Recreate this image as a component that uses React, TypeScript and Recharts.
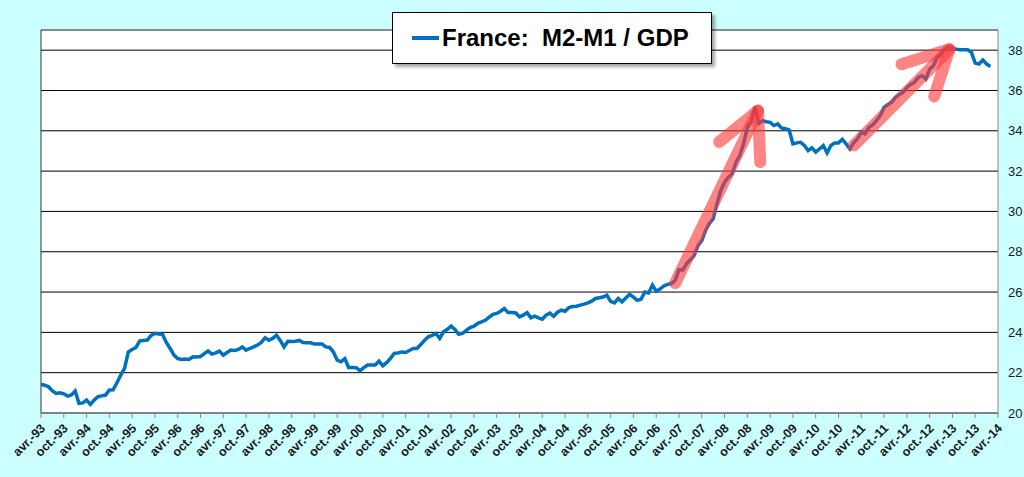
import React from 'react';
import {
    LineChart,
    Line,
    XAxis,
    YAxis,
    CartesianGrid,
    ReferenceLine,
    Legend
} from 'recharts';

// x-axis labels, one every six months (avr.-93 ... avr.-14)
const tickLabels = [
    'avr.-93', 'oct.-93', 'avr.-94', 'oct.-94', 'avr.-95', 'oct.-95', 'avr.-96', 'oct.-96',
    'avr.-97', 'oct.-97', 'avr.-98', 'oct.-98', 'avr.-99', 'oct.-99', 'avr.-00', 'oct.-00',
    'avr.-01', 'oct.-01', 'avr.-02', 'oct.-02', 'avr.-03', 'oct.-03', 'avr.-04', 'oct.-04',
    'avr.-05', 'oct.-05', 'avr.-06', 'oct.-06', 'avr.-07', 'oct.-07', 'avr.-08', 'oct.-08',
    'avr.-09', 'oct.-09', 'avr.-10', 'oct.-10', 'avr.-11', 'oct.-11', 'avr.-12', 'oct.-12',
    'avr.-13', 'oct.-13', 'avr.-14'
];

// monthly M2-M1 / GDP (%), starting avr.-93
const ratio = [
    21.42, 21.38, 21.3, 21.1, 20.97, 21.0, 20.95, 20.84, 20.9, 21.09,
    20.48, 20.5, 20.64, 20.43, 20.64, 20.81, 20.85, 20.89, 21.14, 21.15,
    21.5, 21.88, 22.21, 23.03, 23.15, 23.25, 23.58, 23.6, 23.62, 23.85,
    23.95, 23.92, 23.9, 23.5, 23.2, 22.87, 22.7, 22.66, 22.68, 22.66,
    22.79, 22.78, 22.8, 22.95, 23.08, 22.92, 22.98, 23.07, 22.87, 23.0,
    23.12, 23.1, 23.15, 23.28, 23.12, 23.2, 23.28, 23.37, 23.5, 23.73,
    23.61, 23.7, 23.86, 23.6, 23.28, 23.56, 23.55, 23.56, 23.6, 23.5,
    23.48, 23.48, 23.42, 23.42, 23.42, 23.28, 23.25, 23.03, 22.62, 22.54,
    22.7, 22.26, 22.26, 22.25, 22.1, 22.25, 22.38, 22.38, 22.38, 22.57,
    22.34, 22.5, 22.7, 22.96, 22.98, 23.03, 23.0, 23.1, 23.2, 23.2,
    23.4, 23.61, 23.78, 23.85, 23.95, 23.7, 24.03, 24.15, 24.31, 24.14,
    23.9, 23.95, 24.1, 24.24, 24.31, 24.45, 24.52, 24.6, 24.75, 24.89,
    24.94, 25.05, 25.18, 24.98, 24.98, 24.96, 24.77, 24.85, 24.98, 24.72,
    24.8, 24.72, 24.65, 24.85, 24.96, 24.8, 25.0, 25.1, 25.05, 25.23,
    25.28, 25.3, 25.35, 25.4, 25.46, 25.55, 25.68, 25.72, 25.75, 25.84,
    25.54, 25.46, 25.68, 25.51, 25.7, 25.89, 25.75, 25.59, 25.64, 26.0,
    25.95, 26.34, 26.04, 26.15, 26.3, 26.38, 26.42, 26.58, 27.11, 27.1,
    27.41, 27.6, 27.82, 28.3, 28.55, 29.06, 29.4, 29.64, 30.38, 31.04,
    31.45, 31.7, 31.87, 32.44, 32.77, 33.35, 34.17, 34.42, 35.2, 34.37,
    34.5, 34.45, 34.42, 34.26, 34.34, 34.14, 34.1, 34.04, 33.35, 33.4,
    33.43, 33.27, 33.02, 33.15, 32.94, 33.1, 33.27, 32.9, 33.27, 33.4,
    33.4, 33.58, 33.35, 33.1, 33.4, 33.6, 33.93, 33.85, 34.17, 34.29,
    34.5, 34.75, 35.16, 35.3, 35.41, 35.66, 35.8, 35.9, 36.15, 36.3,
    36.4, 36.65, 36.73, 36.57, 37.06, 37.23, 37.64, 37.8, 38.05, 38.17,
    38.1, 38.05, 38.02, 38.02, 38.02, 37.89, 37.36, 37.31, 37.51, 37.31,
    37.19
];

const yTicks = [20, 22, 24, 26, 28, 30, 32, 34, 36, 38];

// hand-drawn red arrows (month index, value)
const arrow1Shaft = [{ m: 167, v: 26.44 }, { m: 188.8, v: 35.0 }];
const arrow1Head = [{ m: 178.6, v: 33.45 }, { m: 188.8, v: 35.0 }, { m: 189.4, v: 32.45 }];
const arrow2Shaft = [{ m: 214, v: 33.27 }, { m: 239.2, v: 38.05 }];
const arrow2Head = [{ m: 226.6, v: 37.3 }, { m: 239.2, v: 38.05 }, { m: 235.2, v: 35.7 }];

const data = ratio.map((v, m) => ({ m, v }));
const xTicks = tickLabels.map((_, i) => i * 6);

const font = 'Liberation Sans, Arial, sans-serif';

const XTick = (props: any) => {
    const { x, y, payload } = props;
    return (
        <g transform={`translate(${x + 5},${y + 11}) rotate(-45)`}>
            <text x={0} y={0} textAnchor="end" fontSize={12.5} fontWeight="bold" fill="#1a1a1a" fontFamily={font}>
                {tickLabels[Math.round(payload.value / 6)]}
            </text>
        </g>
    );
};

const LegendBox = () => (
    <div
        style={{
            width: 318,
            height: 50,
            background: '#fff',
            border: '1px solid #000',
            boxShadow: '3px 3px 3px rgba(0,0,0,0.35)',
            display: 'flex',
            alignItems: 'center',
            fontFamily: font,
            fontWeight: 'bold',
            fontSize: 24,
            color: '#000',
            whiteSpace: 'pre'
        }}
    >
        <span style={{ display: 'inline-block', width: 27, height: 4, background: '#0070C0', marginLeft: 19, marginRight: 3 }} />
        <span>France:  M2-M1 / GDP</span>
    </div>
);

const arrowStyle = {
    stroke: '#ff3838',
    strokeOpacity: 0.62,
    strokeWidth: 12,
    strokeLinecap: 'round' as const,
    strokeLinejoin: 'round' as const
};

export default function App() {
    return (
        <div style={{ position: 'absolute', left: 0, top: 0, width: 1024, height: 477, background: '#ccffff' }}>
            <LineChart width={1024} height={477} data={data} margin={{ top: 30, right: 0, bottom: 0, left: 41 }}>
                <CartesianGrid vertical={false} stroke="#000" strokeWidth={1} fill="#fff" fillOpacity={1} />
                <XAxis
                    type="number"
                    dataKey="m"
                    domain={[0, 252]}
                    ticks={xTicks}
                    interval={0}
                    height={64}
                    tick={<XTick />}
                    tickSize={5}
                    tickMargin={0}
                    stroke="#888"
                    allowDataOverflow
                />
                <YAxis
                    orientation="right"
                    domain={[20, 39]}
                    ticks={yTicks}
                    width={26}
                    tickLine={false}
                    tickSize={0}
                    tickMargin={10}
                    stroke="#888"
                    tick={{ fill: '#1a1a1a', fontSize: 13, fontFamily: font }}
                    allowDataOverflow
                />
                <ReferenceLine y={39} stroke="#999" />
                <ReferenceLine x={0} stroke="#333" />
                <Legend
                    verticalAlign="middle"
                    align="center"
                    layout="horizontal"
                    wrapperStyle={{ top: 12, left: 392, width: 320, height: 52 }}
                    content={() => <LegendBox />}
                />
                <Line
                    type="linear"
                    dataKey="v"
                    stroke="#0070C0"
                    strokeWidth={3.5}
                    dot={false}
                    isAnimationActive={false}
                    name="France:  M2-M1 / GDP"
                />
                {[arrow1Shaft, arrow1Head, arrow2Shaft, arrow2Head].map((pts, i) => (
                    <Line
                        key={`arrow-${i}`}
                        data={pts}
                        type="linear"
                        dataKey="v"
                        dot={false}
                        legendType="none"
                        isAnimationActive={false}
                        {...arrowStyle}
                    />
                ))}
            </LineChart>
        </div>
    );
}
